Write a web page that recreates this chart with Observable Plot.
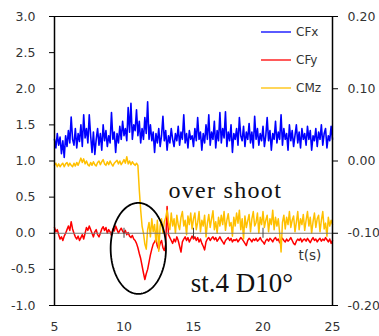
<!DOCTYPE html>
<html><head><meta charset="utf-8">
<script src="https://cdn.jsdelivr.net/npm/d3@7"></script>
<script src="https://cdn.jsdelivr.net/npm/@observablehq/plot@0.6"></script>
<style>
html,body{margin:0;padding:0;background:#fff;}
#wrap{position:relative;width:379px;height:336px;}
#legend{position:absolute;left:0;top:0;pointer-events:none;}
</style>
</head><body><div id="wrap"></div>
<script>
// sampling of the time series (s)
const tStart = 5, tStep = 0.1;

// CFx (left axis)
const cfx = [
1.30,1.18,1.38,1.22,1.33,1.10,1.28,1.05,1.35,1.20,
1.42,1.25,1.61,1.30,1.22,1.45,1.18,1.38,1.27,1.50,
1.20,1.64,1.32,1.45,1.25,1.64,1.35,1.12,1.40,1.09,
1.30,1.45,1.22,1.38,1.15,1.50,1.28,1.42,1.20,1.35,
1.25,1.67,1.30,1.40,1.12,1.38,1.25,1.48,1.30,1.55,
1.35,1.45,1.28,1.74,1.40,1.80,1.30,1.50,1.42,1.71,
1.35,1.55,1.25,1.45,1.30,1.60,1.38,1.82,1.30,1.50,
1.28,1.40,1.12,1.38,1.25,1.45,1.20,1.35,1.62,1.28,
1.42,1.15,1.35,1.25,1.45,1.30,1.20,1.38,1.28,1.48,
1.22,1.40,1.30,1.64,1.25,1.38,1.18,1.42,1.30,1.35,
1.20,1.45,1.28,1.60,1.30,1.40,1.15,1.38,1.25,1.50,
1.30,1.64,1.22,1.40,1.30,1.55,1.18,1.42,1.28,1.67,
1.25,1.45,1.32,1.68,1.20,1.40,1.28,1.50,1.12,1.38,
1.30,1.45,1.22,1.60,1.35,1.28,1.48,1.20,1.40,1.30,
1.52,1.25,1.40,1.18,1.62,1.30,1.45,1.22,1.38,1.28,
1.48,1.20,1.35,1.60,1.28,1.42,1.15,1.38,1.30,1.55,
1.25,1.40,1.30,1.64,1.22,1.45,1.30,1.38,1.15,1.50,
1.28,1.42,1.20,1.35,1.50,1.25,1.40,1.18,1.45,1.30,
1.38,1.22,1.48,1.30,1.42,1.15,1.35,1.28,1.45,1.20,
1.40,1.30,1.50,1.22,1.38,1.45,1.18,1.35,1.28,1.48,
1.30
];

// CFy (left axis)
const cfy = [
0.08,0.02,0.05,-0.02,-0.08,-0.05,-0.10,-0.04,0.00,0.05,
0.10,0.04,0.16,0.06,0.00,-0.05,-0.08,-0.04,-0.10,-0.06,
-0.02,-0.08,0.00,0.08,0.04,0.10,0.05,0.00,-0.05,0.02,
0.05,-0.02,-0.05,0.00,0.06,0.09,0.04,0.08,0.00,0.05,
0.02,-0.03,0.06,0.03,0.10,0.05,0.00,0.04,0.07,0.03,
0.00,0.04,-0.02,0.01,-0.04,-0.06,-0.03,-0.08,-0.10,-0.14,
-0.20,-0.28,-0.35,-0.45,-0.55,-0.64,-0.56,-0.50,-0.40,-0.30,
-0.22,-0.15,-0.12,-0.08,-0.18,-0.22,-0.14,-0.10,-0.20,-0.24,
-0.15,0.37,-0.02,-0.06,-0.10,-0.14,-0.08,-0.12,-0.05,-0.10,
-0.18,-0.26,-0.12,-0.08,-0.05,-0.10,-0.06,-0.12,-0.08,-0.04,
-0.08,-0.05,-0.10,-0.06,-0.12,-0.08,-0.14,-0.18,-0.23,-0.12,
-0.08,-0.06,-0.10,-0.07,-0.05,-0.09,-0.06,-0.11,-0.08,-0.05,
-0.09,-0.12,-0.15,-0.10,-0.08,-0.06,-0.10,-0.07,-0.12,-0.09,
-0.10,-0.08,-0.12,-0.09,-0.06,-0.08,-0.11,-0.14,-0.17,-0.10,
-0.07,-0.09,-0.12,-0.08,-0.10,-0.07,-0.11,-0.09,-0.06,-0.10,
-0.12,-0.15,-0.10,-0.08,-0.11,-0.07,-0.09,-0.12,-0.08,-0.06,
-0.10,-0.08,-0.13,-0.09,-0.07,-0.10,-0.12,-0.08,-0.11,-0.09,
-0.06,-0.10,-0.14,-0.16,-0.11,-0.08,-0.10,-0.07,-0.12,-0.09,
-0.08,-0.11,-0.07,-0.10,-0.13,-0.09,-0.06,-0.10,-0.08,-0.12,
-0.09,-0.07,-0.11,-0.08,-0.10,-0.06,-0.09,-0.12,-0.08,-0.14,
-0.10
];

// CMz (right axis)
const cmz = [
-0.006,-0.003,-0.008,-0.004,-0.008,-0.005,-0.003,-0.008,-0.004,-0.002,
-0.007,-0.003,-0.006,-0.008,-0.003,-0.007,-0.002,-0.006,-0.001,0.004,
-0.002,0.003,-0.004,0.000,-0.005,-0.007,-0.002,-0.006,-0.001,-0.005,
-0.007,-0.002,0.000,-0.005,-0.001,0.002,-0.004,-0.006,-0.001,-0.005,
0.000,-0.004,-0.007,-0.003,-0.001,0.001,-0.004,0.000,-0.005,-0.002,
0.002,-0.003,0.006,-0.004,0.000,-0.005,-0.001,-0.004,-0.006,-0.003,
-0.006,-0.040,-0.068,-0.090,-0.100,-0.115,-0.122,-0.095,-0.085,-0.105,
-0.080,-0.098,-0.088,-0.112,-0.082,-0.125,-0.090,-0.080,-0.100,-0.084,
-0.078,-0.068,-0.085,-0.095,-0.072,-0.090,-0.080,-0.100,-0.075,-0.088,
-0.095,-0.078,-0.070,-0.090,-0.082,-0.102,-0.076,-0.088,-0.072,-0.094,
-0.080,-0.072,-0.095,-0.085,-0.070,-0.098,-0.082,-0.090,-0.075,-0.105,
-0.086,-0.074,-0.092,-0.080,-0.069,-0.095,-0.084,-0.100,-0.078,-0.090,
-0.075,-0.088,-0.070,-0.096,-0.082,-0.073,-0.090,-0.085,-0.104,-0.078,
-0.090,-0.072,-0.086,-0.068,-0.095,-0.080,-0.108,-0.076,-0.092,-0.083,
-0.074,-0.098,-0.080,-0.070,-0.090,-0.085,-0.072,-0.100,-0.078,-0.088,
-0.070,-0.092,-0.082,-0.075,-0.098,-0.080,-0.088,-0.068,-0.095,-0.078,
-0.090,-0.080,-0.100,-0.126,-0.085,-0.075,-0.094,-0.078,-0.088,-0.070,
-0.092,-0.082,-0.076,-0.098,-0.085,-0.070,-0.095,-0.080,-0.088,-0.074,
-0.096,-0.082,-0.070,-0.090,-0.078,-0.100,-0.084,-0.072,-0.092,-0.080,
-0.075,-0.098,-0.082,-0.070,-0.094,-0.086,-0.104,-0.078,-0.090,-0.082,
-0.088
];

const seriesNames = ["CFx", "CFy", "CMz"];
const seriesColors = ["#0000ff", "#ff0000", "#ffc000"];

const xTicks = [5, 10, 15, 20, 25];
const leftTicks = [-1, -0.5, 0, 0.5, 1, 1.5, 2, 2.5, 3];
const rightTicks = [-0.2, -0.1, 0, 0.1, 0.2];
const xDomain = [5, 25];
const leftDomain = [-1, 3];
const rightDomain = [-0.2, 0.2];

// annotations
const overshootLabel = {t: 13.2, v: 0.49, text: "over shoot"};
const caseLabel = {t: 14.8, v: -0.82, text: "st.4 D10°"};
const timeLabel = {t: 22.55, v: -0.37, text: "t(s)"};
const ellipse = {cx: 11.03, cy: -0.21, rx: 1.99, ry: 0.63};

// secondary axis → primary scale
const k = (leftDomain[1] - leftDomain[0]) / (rightDomain[1] - rightDomain[0]);
const toLeft = r => leftDomain[0] + (r - rightDomain[0]) * k;
const fromLeft = v => rightDomain[0] + (v - leftDomain[0]) / k;

const rows = cfx.map((v, i) => ({
  t: Math.round((tStart + i * tStep) * 100) / 100,
  cfx: v, cfy: cfy[i], cmz: cmz[i]
}));

const ellipsePts = d3.range(0, 361, 2).map(a => ({
  t: ellipse.cx + ellipse.rx * Math.cos(a * Math.PI / 180),
  v: ellipse.cy + ellipse.ry * Math.sin(a * Math.PI / 180)
}));

const chart = Plot.plot({
  width: 379, height: 336,
  marginLeft: 54, marginRight: 47, marginTop: 16, marginBottom: 31,
  style: {fontFamily: "DejaVu Sans", fontSize: "12.5px", color: "#333", background: "#fff"},
  x: {domain: xDomain, label: null},
  y: {domain: leftDomain, label: null},
  marks: [
    Plot.line(rows, {x: "t", y: "cfx", stroke: seriesColors[0], strokeWidth: 1.6}),
    Plot.line(rows, {x: "t", y: "cfy", stroke: seriesColors[1], strokeWidth: 1.5}),
    Plot.line(rows, {x: "t", y: d => toLeft(d.cmz), stroke: seriesColors[2], strokeWidth: 1.5}),
    Plot.ruleY([0], {stroke: "#777", strokeWidth: 1}),
    Plot.ruleX(xTicks.slice(1, -1), {x: d => d, y1: 0, y2: 0, insetTop: -5, insetBottom: -5, stroke: "#444", strokeWidth: 1}),
    Plot.line(ellipsePts, {x: "t", y: "v", stroke: "#000", strokeWidth: 1.8}),
    Plot.frame({stroke: "#000", strokeWidth: 1}),
    Plot.ruleX(xDomain, {stroke: "#000", strokeWidth: 1.5}),
    Plot.axisY({anchor: "left", ticks: leftTicks, tickFormat: d => d.toFixed(1), tickSize: 5, tickPadding: 14, label: null, stroke: "#000"}),
    Plot.axisY({anchor: "right", ticks: rightTicks.map(toLeft), tickFormat: d => fromLeft(d).toFixed(2), tickSize: 5, tickPadding: 10, label: null, stroke: "#000"}),
    Plot.axisX({anchor: "bottom", ticks: xTicks, tickFormat: d => String(d), tickSize: 0, tickPadding: 17, label: null}),
    Plot.text([overshootLabel], {x: "t", y: "v", text: "text", textAnchor: "start", lineAnchor: "bottom", fontFamily: "Liberation Serif", fontSize: 24, fill: "#111", className: "overshoot"}),
    Plot.text([caseLabel], {x: "t", y: "v", text: "text", textAnchor: "start", lineAnchor: "bottom", fontFamily: "Liberation Serif", fontSize: 27, fill: "#111"}),
    Plot.text([timeLabel], {x: "t", y: "v", text: "text", textAnchor: "start", lineAnchor: "bottom", fontFamily: "DejaVu Sans", fontSize: 13.5, fill: "#333"})
  ]
});

const wrap = document.getElementById("wrap");
wrap.appendChild(chart);
d3.select(chart).selectAll("text")
  .filter(function () { return this.textContent === overshootLabel.text; })
  .attr("letter-spacing", "1.3px");

// legend overlay (inside plot, top right)
const legend = d3.select(wrap).append("svg").attr("id", "legend")
  .attr("width", 379).attr("height", 110);
const lg = legend.selectAll("g").data(seriesNames).join("g")
  .attr("transform", (d, i) => `translate(261,${32 + i * 28})`);
lg.append("line").attr("x1", 0).attr("x2", 30).attr("y1", 0).attr("y2", 0)
  .attr("stroke", (d, i) => seriesColors[i]).attr("stroke-width", 1.3);
lg.append("text").attr("x", 35).attr("y", 0).attr("dy", "0.35em")
  .attr("font-family", "DejaVu Sans").attr("font-size", 12).attr("fill", "#333")
  .text(d => d);
</script>
</body></html>
